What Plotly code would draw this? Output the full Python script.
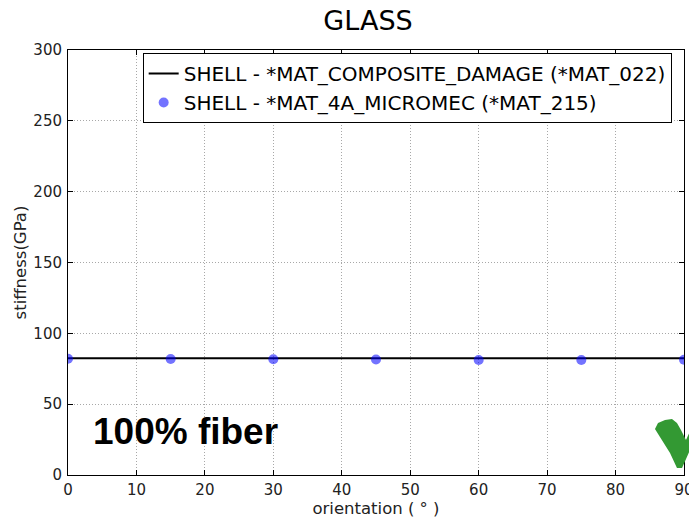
import plotly.graph_objects as go

# Stiffness vs. fibre orientation, 100% glass fibre
orientation = [0, 15, 30, 45, 60, 75, 90]
stiffness_mat022 = [82.4, 82.4, 82.4, 82.4, 82.4, 82.4, 82.4]
stiffness_mat215 = [82.0, 81.9, 81.7, 81.5, 81.2, 81.2, 81.4]

x_ticks = [0, 10, 20, 30, 40, 50, 60, 70, 80, 90]
y_ticks = [0, 50, 100, 150, 200, 250, 300]

W, H = 689, 518
L, R, T, B = 68, 5, 50, 43
FONT = "DejaVu Sans"

fig = go.Figure()
fig.add_trace(go.Scatter(
    x=orientation, y=stiffness_mat022, mode="lines",
    name="SHELL - *MAT_COMPOSITE_DAMAGE (*MAT_022)",
    line=dict(color="black", width=1.8),
))
fig.add_trace(go.Scatter(
    x=orientation, y=stiffness_mat215, mode="markers",
    name="SHELL - *MAT_4A_MICROMEC (*MAT_215)",
    marker=dict(color="rgba(0,0,255,0.55)", size=10, line=dict(width=0)),
))

axis_common = dict(
    showline=True, linecolor="black", linewidth=1, mirror="ticks",
    ticks="inside", ticklen=5, tickcolor="black", tickwidth=1,
    showgrid=True, gridcolor="#a8a8a8", griddash="1px,2px", gridwidth=1,
    zeroline=False, automargin=False, ticklabeloverflow="allow",
    tickfont=dict(family=FONT, size=15, color="#222"),
    title_font=dict(family=FONT, size=16.5, color="#222"),
)

fig.update_xaxes(range=[0, 90], tickvals=x_ticks, ticklabelstandoff=1,
                 title_text="orientation ( ° )", title_standoff=6, **axis_common)
fig.update_yaxes(range=[0, 300], tickvals=y_ticks, ticklabelstandoff=2,
                 title_text="stiffness(GPa)", title_standoff=2, **axis_common)


def px(X, Y):
    return (X - L) / (W - L - R), (H - B - Y) / (H - T - B)


# green check mark in the lower right corner
check_pts = [(655, 429), (658, 423), (665, 420), (672, 419), (677, 423),
             (681, 430), (686, 440), (700, 410), (706, 414), (682, 468),
             (677, 468), (670, 453), (660, 437)]
path = "M " + " L ".join("%.4f,%.4f" % px(*p) for p in check_pts) + " Z"
fig.add_shape(type="path", path=path, xref="paper", yref="paper",
              fillcolor="#339933", line=dict(width=0), layer="above")

fig.add_annotation(x=17.1, y=30.4, xref="x", yref="y", text="<b>100% fiber</b>",
                   showarrow=False, font=dict(family="Liberation Sans", size=37, color="black"))

fig.update_layout(
    width=W, height=H,
    margin=dict(l=L, r=R, t=T, b=B),
    paper_bgcolor="white", plot_bgcolor="white",
    title=dict(text="GLASS", x=368 / W, xanchor="center", y=1 - 21 / H, yanchor="middle",
               font=dict(family=FONT, size=27, color="black")),
    legend=dict(x=0.98, xanchor="right", y=0.993, yanchor="top",
                bgcolor="white", bordercolor="black", borderwidth=1,
                font=dict(family=FONT, size=20, color="black"),
                itemwidth=30, tracegroupgap=0),
    showlegend=True,
)

fig.write_html("out.html")
